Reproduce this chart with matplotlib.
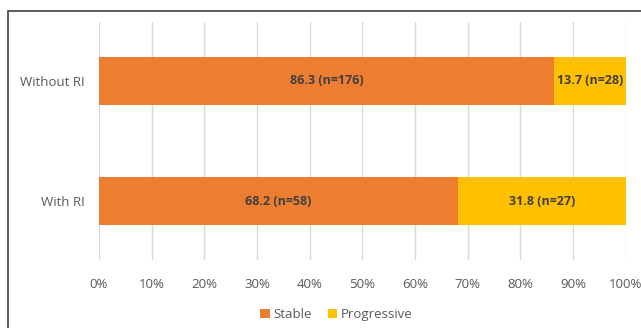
import numpy as np
import matplotlib.pyplot as plt
from matplotlib.patches import Rectangle
from matplotlib.ticker import PercentFormatter

plt.rcParams['font.family'] = ['Open Sans', 'DejaVu Sans']

groups = ["With RI", "Without RI"]
stable = [68.2, 86.3]
progressive = [31.8, 13.7]
stable_n = [58, 176]
progressive_n = [27, 28]

orange = "#ED7D31"
yellow = "#FFC000"
grey_text = "#595959"

fig = plt.figure(figsize=(6.41, 3.28), dpi=100)
ax = fig.add_axes([0.1544, 0.207, 0.822, 0.726])

y = np.arange(len(groups))
ax.barh(y, stable, height=0.4, color=orange, label="Stable", zorder=3)
ax.barh(y, progressive, left=stable, height=0.4, color=yellow, label="Progressive", zorder=3)

for i in range(len(groups)):
    ax.text(stable[i] / 2, y[i], f"{stable[i]} (n={stable_n[i]})", ha="center", va="center",
            fontsize=9, fontweight="bold", color="#404040", zorder=4)
    ax.text(stable[i] + progressive[i] / 2, y[i], f"{progressive[i]} (n={progressive_n[i]})",
            ha="center", va="center", fontsize=9, fontweight="bold", color="#404040", zorder=4)

ax.set_xlim(0, 100)
ax.set_ylim(-0.49, 1.49)
ax.set_xticks(np.arange(0, 101, 10))
ax.xaxis.set_major_formatter(PercentFormatter(decimals=0))
ax.set_yticks(y)
ax.set_yticklabels(groups)
ax.grid(axis="x", color="#D9D9D9", linewidth=1, zorder=0)
ax.tick_params(axis="x", length=0, pad=13, labelsize=9.5, labelcolor=grey_text)
ax.tick_params(axis="y", length=0, pad=10, labelsize=9.5, labelcolor=grey_text)
for s in ax.spines.values():
    s.set_visible(False)

fig.legend(loc="center", bbox_to_anchor=(0.525, 0.04), ncol=2, frameon=False,
           fontsize=9.5, labelcolor=grey_text, handlelength=0.7, handleheight=0.7,
           handletextpad=0.3, columnspacing=1.2)

# outer frame of the chart area, clipped by the figure edges
fig.patches.append(Rectangle((7.5 / 641, -0.1), 1.2, 1 - 10.5 / 328 + 0.1,
                             transform=fig.transFigure, fill=False,
                             edgecolor="#404040", linewidth=1.2))

fig.savefig("out.png", dpi=100)
